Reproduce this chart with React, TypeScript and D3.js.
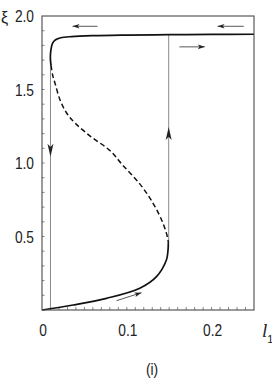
import * as React from "react"
import * as d3 from "d3"

// S-shaped response curve as [l1, xi]
const upperBranch: [number, number][] = [
  [0.25, 1.876],
  [0.2, 1.875],
  [0.15, 1.873],
  [0.1, 1.87],
  [0.06, 1.866],
  [0.035, 1.86],
  [0.022, 1.852],
  [0.016, 1.838],
  [0.0125, 1.815],
  [0.0108, 1.78],
  [0.0099, 1.73],
  [0.0101, 1.69],
  [0.0107, 1.665],
]

const middleBranch: [number, number][] = [
  [0.0107, 1.665],
  [0.0125, 1.6],
  [0.0155, 1.54],
  [0.0212, 1.43],
  [0.029, 1.34],
  [0.039, 1.272],
  [0.0575, 1.18],
  [0.08, 1.085],
  [0.0957, 0.982],
  [0.1153, 0.858],
  [0.131, 0.726],
  [0.1427, 0.59],
  [0.1482, 0.49],
  [0.149, 0.455],
]

const lowerBranch: [number, number][] = [
  [0.149, 0.455],
  [0.1485, 0.4],
  [0.1467, 0.34],
  [0.135, 0.227],
  [0.1153, 0.148],
  [0.0761, 0.0794],
  [0.0368, 0.034],
  [0, 0],
]

// jump lines: [l1, xiFrom, xiTo, arrow tip xi]
const jumps: [number, number, number, number][] = [
  [0.01, 1.72, 0, 1.043],
  [0.1494, 0.455, 1.875, 1.245],
]

// small direction arrows: [l1Start, xiStart, l1End, xiEnd]
const flowArrows: [number, number, number, number][] = [
  [0.0655, 1.93, 0.036, 1.93],
  [0.238, 1.93, 0.207, 1.93],
  [0.162, 1.79, 0.192, 1.79],
  [0.0878, 0.063, 0.1173, 0.118],
]

const xTicks = [0, 0.1, 0.2]
const xTickLabels = ["0", "0.1", "0.2"]
const yTicks = [0.5, 1.0, 1.5, 2.0]
const yTickLabels = ["0.5", "1.0", "1.5", "2.0"]

const FONT = "'Liberation Sans', Arial, sans-serif"
const NARROW = 0.86

function headPath(tx: number, ty: number, angle: number, len: number, hw: number) {
  const c = Math.cos(angle)
  const s = Math.sin(angle)
  const bx = tx - c * len
  const by = ty - s * len
  const nx = tx - c * len * 0.75
  const ny = ty - s * len * 0.75
  return `M${tx},${ty}L${bx - s * hw},${by + c * hw}L${nx},${ny}L${bx + s * hw},${by - c * hw}Z`
}

function render(svgRef: React.RefObject<SVGSVGElement>, width: number, height: number) {
  const margin = { top: 16, right: 18, bottom: 72, left: 42 }
  const w = width - margin.left - margin.right
  const h = height - margin.top - margin.bottom

  const svg = d3.select(svgRef.current).attr("width", width).attr("height", height)
  svg.selectAll("*").remove()
  const g = svg.append("g").attr("transform", `translate(${margin.left},${margin.top})`)

  const x = d3.scaleLinear().domain([0, 0.25]).range([0, w])
  const y = d3.scaleLinear().domain([0, 2.0]).range([h, 0])

  // minor ticks, inside
  g.selectAll(".xminor")
    .data(d3.range(1, 25).map((i) => i / 100))
    .join("line")
    .attr("x1", (d) => x(d))
    .attr("x2", (d) => x(d))
    .attr("y1", h)
    .attr("y2", h - 3)
    .attr("stroke", "#666")
    .attr("stroke-width", 0.8)

  g.selectAll(".yminor")
    .data(d3.range(1, 20).map((i) => i / 10))
    .join("line")
    .attr("x1", 0)
    .attr("x2", 2.5)
    .attr("y1", (d) => y(d))
    .attr("y2", (d) => y(d))
    .attr("stroke", "#666")
    .attr("stroke-width", 0.8)

  // jump lines
  g.selectAll(".jump")
    .data(jumps)
    .join("line")
    .attr("x1", (d) => x(d[0]))
    .attr("x2", (d) => x(d[0]))
    .attr("y1", (d) => y(d[1]))
    .attr("y2", (d) => y(d[2]))
    .attr("stroke", "#8a8a8a")
    .attr("stroke-width", 1)

  g.selectAll(".jumphead")
    .data(jumps)
    .join("path")
    .attr("d", (d) =>
      headPath(x(d[0]), y(d[3]), d[2] < d[1] ? Math.PI / 2 : -Math.PI / 2, 13, 3)
    )
    .attr("fill", "#222")

  const line = d3
    .line<[number, number]>()
    .x((d) => x(d[0]))
    .y((d) => y(d[1]))
    .curve(d3.curveCatmullRom.alpha(0.5))

  g.append("path")
    .attr("d", line(upperBranch))
    .attr("fill", "none")
    .attr("stroke", "#111")
    .attr("stroke-width", 1.7)

  g.append("path")
    .attr("d", line(middleBranch))
    .attr("fill", "none")
    .attr("stroke", "#111")
    .attr("stroke-width", 1.5)
    .attr("stroke-dasharray", "5,3")

  g.append("path")
    .attr("d", line(lowerBranch))
    .attr("fill", "none")
    .attr("stroke", "#111")
    .attr("stroke-width", 1.7)

  // flow arrows
  g.selectAll(".flow")
    .data(flowArrows)
    .join("line")
    .attr("x1", (d) => x(d[0]))
    .attr("y1", (d) => y(d[1]))
    .attr("x2", (d) => x(d[2]))
    .attr("y2", (d) => y(d[3]))
    .attr("stroke", "#444")
    .attr("stroke-width", 0.9)

  g.selectAll(".flowhead")
    .data(flowArrows)
    .join("path")
    .attr("d", (d) => {
      const ang = Math.atan2(y(d[3]) - y(d[1]), x(d[2]) - x(d[0]))
      return headPath(x(d[2]), y(d[3]), ang, 7, 2.3)
    })
    .attr("fill", "#222")

  // frame
  g.append("rect")
    .attr("width", w)
    .attr("height", h)
    .attr("fill", "none")
    .attr("stroke", "#4a4a4a")
    .attr("stroke-width", 1.1)

  g.selectAll(".xlab")
    .data(xTicks)
    .join("text")
    .attr("transform", (d) => `translate(${x(d) + 1},${h + 26}) scale(${NARROW},1)`)
    .attr("text-anchor", "middle")
    .attr("font-family", FONT)
    .attr("font-size", 16)
    .attr("fill", "#222")
    .text((_d, i) => xTickLabels[i])

  g.selectAll(".ylab")
    .data(yTicks)
    .join("text")
    .attr("transform", (d) => `translate(-8,${y(d) + 6}) scale(${NARROW},1)`)
    .attr("text-anchor", "end")
    .attr("font-family", FONT)
    .attr("font-size", 16)
    .attr("fill", "#222")
    .text((_d, i) => yTickLabels[i])

  svg
    .append("text")
    .attr("x", 1)
    .attr("y", 23)
    .attr("font-family", FONT)
    .attr("font-size", 16)
    .attr("fill", "#222")
    .text("ξ")

  const l1 = svg
    .append("text")
    .attr("x", 262)
    .attr("y", 337)
    .attr("font-family", "'Liberation Serif', serif")
    .attr("font-style", "italic")
    .attr("font-size", 19)
    .attr("fill", "#222")
  l1.append("tspan").text("l")
  l1.append("tspan")
    .attr("dy", 6)
    .attr("font-family", FONT)
    .attr("font-style", "normal")
    .attr("font-size", 11)
    .text("1")

  svg
    .append("text")
    .attr("transform", `translate(152,375) scale(${NARROW},1)`)
    .attr("text-anchor", "middle")
    .attr("font-family", FONT)
    .attr("font-size", 16)
    .attr("fill", "#222")
    .text("(i)")
}

export default function App(): React.JSX.Element {
  const svg = React.useRef<SVGSVGElement>(null)
  const width = 272
  const height = 382

  React.useEffect(() => {
    render(svg, width, height)
  }, [])

  return (
    <svg
      ref={svg}
      style={{ position: "absolute", left: 0, top: 0, background: "#fff" }}
    ></svg>
  )
}
